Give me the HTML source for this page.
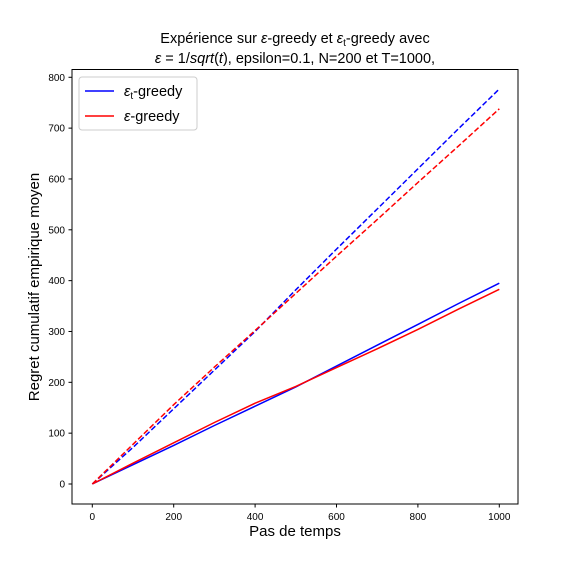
<!DOCTYPE html>
<html><head><meta charset="utf-8"><style>
body{margin:0;background:#fff;}
svg{display:block;font-family:"Liberation Sans","DejaVu Sans",sans-serif;}
</style></head><body>
<svg id="chart" width="576" height="576" viewBox="0 0 576 576">
<rect width="576" height="576" fill="#fff"/>
<g>
<text x="295" y="43" font-size="14.5" text-anchor="middle">Expérience sur <tspan font-style="italic">ε</tspan>-greedy et <tspan font-style="italic">ε</tspan><tspan font-size="10" dy="3">t</tspan><tspan dy="-3">-greedy avec</tspan></text>
<text x="295" y="63" font-size="14.5" text-anchor="middle"><tspan font-style="italic">ε</tspan> = 1/<tspan font-style="italic">sqrt</tspan>(<tspan font-style="italic">t</tspan>), epsilon=0.1, N=200 et T=1000,</text>
</g>
<g id="plot"></g>
<rect x="72" y="69.5" width="446" height="434.5" fill="none" stroke="#000" stroke-width="1"/>
<g id="xt"></g><g id="yt"></g>
<text x="295" y="536" font-size="15" text-anchor="middle">Pas de temps</text>
<text transform="translate(39,287) rotate(-90)" font-size="15" text-anchor="middle">Regret cumulatif empirique moyen</text>
<g>
<rect x="79" y="77" width="118" height="53" rx="3" fill="#fff" fill-opacity="0.8" stroke="#ccc"/>
<line x1="85" y1="91" x2="114" y2="91" stroke="#0000ff" stroke-width="1.5"/>
<text x="124" y="96" font-size="14.5"><tspan font-style="italic">ε</tspan><tspan font-size="10" dy="3">t</tspan><tspan dy="-3">-greedy</tspan></text>
<line x1="85" y1="116" x2="114" y2="116" stroke="#ff0000" stroke-width="1.5"/>
<text x="124" y="121" font-size="14.5"><tspan font-style="italic">ε</tspan>-greedy</text>
</g>
</svg>
<script>
const steps=[0,100,200,300,400,500,600,700,800,900,1000];
const blueDashed=[0,72,148,224,300,382,462,541,620,699,777];
const redDashed=[0,78,156,230,302,375,448,520,593,665,738];
const blueSolid=[0,38,76,115,153,191,232,273,314,355,395];
const redSolid=[0,41,81,121,159,192,229,266,304,344,383];
const xTicks=[0,200,400,600,800,1000];
const yTicks=[0,100,200,300,400,500,600,700,800];
const NS="http://www.w3.org/2000/svg";
const xs=v=>92.3+v*0.407;
const ys=v=>484-v*0.5084;
function mk(t,a,p){const e=document.createElementNS(NS,t);for(const k in a)e.setAttribute(k,a[k]);p.appendChild(e);return e;}
const plot=document.getElementById('plot');
const series=[[blueDashed,'#0000ff',true,'line-eps-t-greedy-dashed'],[redDashed,'#ff0000',true,'line-eps-greedy-dashed'],[blueSolid,'#0000ff',false,'line-eps-t-greedy'],[redSolid,'#ff0000',false,'line-eps-greedy']];
series.forEach(s=>{
 const pts=steps.map((x,i)=>xs(x).toFixed(1)+','+ys(s[0][i]).toFixed(1)).join(' ');
 const pl=mk('polyline',{points:pts,fill:'none',stroke:s[1],'stroke-width':1.5,'stroke-linejoin':'round'},plot);
 if(s[2])pl.setAttribute('stroke-dasharray','5.5,2.5');
 
 
});
const xt=document.getElementById('xt');
xTicks.forEach(v=>{
 const l=mk('line',{x1:xs(v),x2:xs(v),y1:504,y2:507.5,stroke:'#000'},xt);
 
 
 const t=mk('text',{x:xs(v),y:520,'font-size':10,'text-anchor':'middle'},xt);
 t.textContent=v;
 
 
});
const yt=document.getElementById('yt');
yTicks.forEach(v=>{
 const l=mk('line',{x1:68.5,x2:72,y1:ys(v),y2:ys(v),stroke:'#000'},yt);
 
 
 const t=mk('text',{x:65,y:ys(v)+3.5,'font-size':10,'text-anchor':'end'},yt);
 t.textContent=v;
 
 
});
</script>
</body></html>
